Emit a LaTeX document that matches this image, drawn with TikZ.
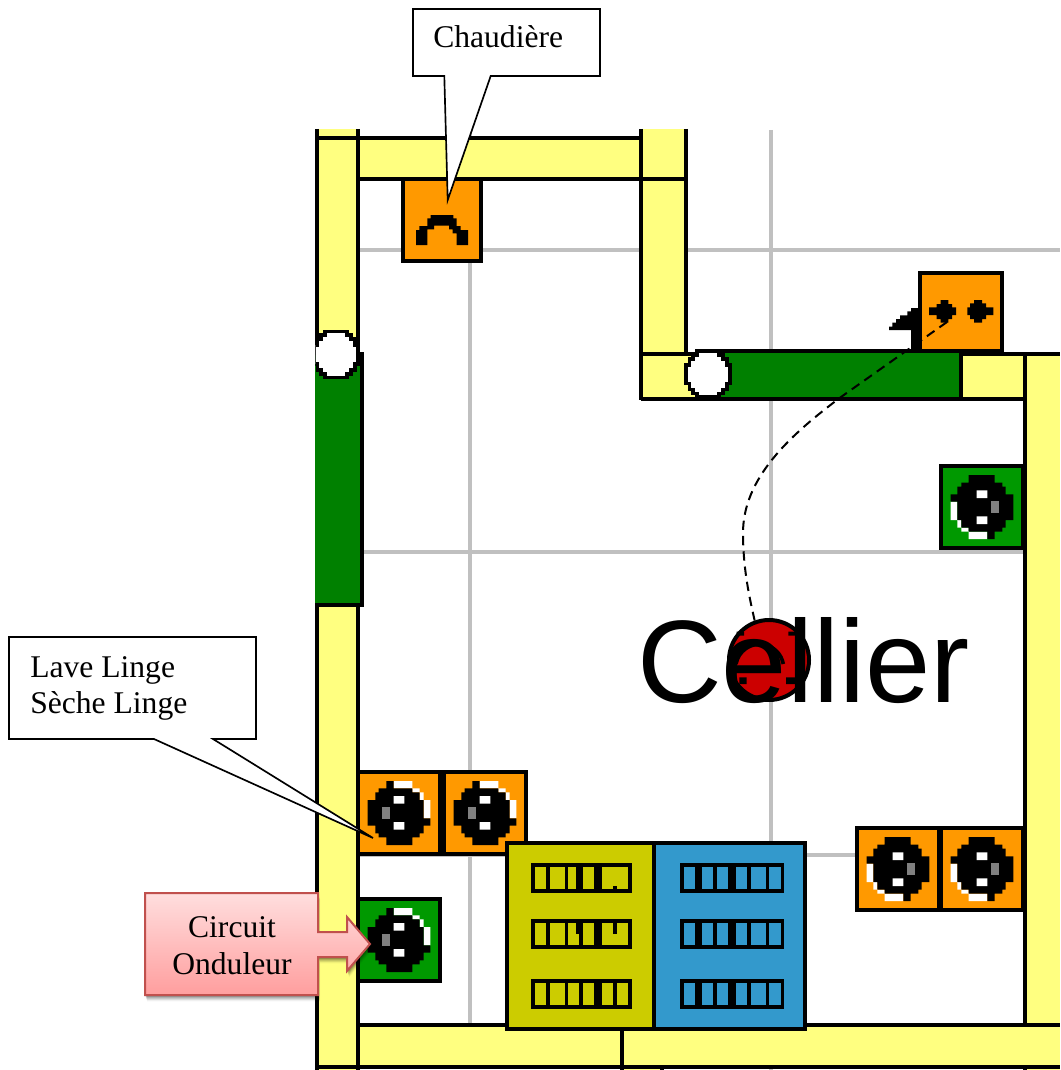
\documentclass[tikz,border=0pt]{standalone}
\usepackage{fontspec}
\setmainfont{Liberation Serif}
\newfontfamily\arialfont{Liberation Sans}
\definecolor{wallc}{HTML}{FFFF80}
\definecolor{gridc}{HTML}{C0C0C0}
\definecolor{doorc}{HTML}{008000}
\definecolor{orangec}{HTML}{FF9900}
\definecolor{sockgreen}{HTML}{009900}
\definecolor{olivec}{HTML}{CCCC00}
\definecolor{bluec}{HTML}{3399CC}
\definecolor{lampc}{HTML}{CC0000}
\definecolor{ondb}{HTML}{C0504D}
\definecolor{ondt}{HTML}{FFDEDE}
\definecolor{ondd}{HTML}{FF9E9E}
\tikzset{
  gridline/.style={draw=gridc,line width=2.5pt},
  wallline/.style={draw=black,line width=2.75pt,line cap=butt},
  wallfill/.style={fill=wallc},
  boxline/.style={draw=black,line width=3pt},
  callout/.style={draw=black,fill=white,line width=1.25pt,line join=miter},
  calltext/.style={font=\fontsize{23.7}{28}\selectfont,inner sep=0pt,anchor=base west},
  zoomunits/.style={x=.25pt,y=-.25pt},
}
% name, centre x, centre y, rotation, fill
\newcommand\socketbox[5]{%
  \node[boxline,fill=#5,minimum size=61.5pt,inner sep=0pt,rectangle] (#1) at (#2,#3) {};
  \begin{scope}[shift={(#2,#3)},rotate=#4,zoomunits,shift={(-176,-159)}]
    \fill[white] (160,63) rectangle (216,85) (216,85) rectangle (238,97) (238,97) rectangle (250,120) (250,120) rectangle (270,175);
    \fill[black] (138,63)--(160,63)--(160,85)--(216,85)--(216,97)--(238,97)--(238,120)--(250,120)--(250,175)--(270,175)--(270,197)--(250,197)--(250,220)--(238,220)--(238,232)--(216,232)--(216,255)--(138,255)--(138,232)--(115,232)--(115,220)--(105,220)--(105,197)--(82,197)--(82,120)--(105,120)--(105,97)--(115,97)--(115,85)--(138,85)--cycle;
    \fill[white] (160,108) rectangle (192,131) (160,186) rectangle (192,209);
    \fill[gray] (126,142) rectangle (148,176);
  \end{scope}}
% white door pivot, centre in px
\newcommand\pivot[2]{%
  \begin{scope}[shift={(#1,#2)},zoomunits]
    \draw[fill=white,line width=2.75pt,miter limit=10]
      (-27,-69)--(33,-69)--(33,-58)--(45,-58)--(45,-46)--(56,-46)--(56,-28)--(66,-28)--(66,28)--(56,28)--(56,46)--(45,46)--(45,58)--(33,58)--(33,69)--(-27,69)--(-33,69)--(-33,58)--(-45,58)--(-45,46)--(-56,46)--(-56,28)--(-66,28)--(-66,-28)--(-56,-28)--(-56,-46)--(-45,-46)--(-45,-58)--(-33,-58)--(-33,-69)--cycle;
  \end{scope}}
% breaker row: left x, top y (zoom units), colour, list of cells
\newcommand\breakers[5]{%
  \fill[black] (#1,#2) rectangle (#3,#2+90);
  \foreach \a/\b in {#5} {\fill[#4] (\a,#2+11) rectangle (\b,#2+79);}}
\begin{document}
\begin{tikzpicture}[x=.75pt,y=-.75pt]
\useasboundingbox (0,0) rectangle (1060,1070);
% grid
\draw[gridline] (470,130)--(470,1030);
\draw[gridline] (771,130)--(771,1070);
\draw[gridline] (358,250)--(1060,250);
\draw[gridline] (358,552)--(1025,552);
\draw[gridline] (358,855)--(1025,855);
% walls: fills
\fill[wallfill] (317,129) rectangle (358,1070);
\fill[wallfill] (358,138) rectangle (641,179);
\fill[wallfill] (641,129) rectangle (686,399);
\fill[wallfill] (641,354) rectangle (1060,399);
\fill[wallfill] (1025,354) rectangle (1060,1070);
\fill[wallfill] (358,1025) rectangle (1060,1067);
\fill[wallfill] (624,1067) rectangle (662,1070);
% walls: lines
\draw[wallline] (317,129)--(317,1070);
\draw[wallline] (358,129)--(358,1070);
\draw[wallline] (317,138)--(641,138);
\draw[wallline] (358,179)--(686,179);
\draw[wallline] (641,129)--(641,400);
\draw[wallline] (686,129)--(686,354);
\draw[wallline] (641,354)--(1060,354);
\draw[wallline] (641,399)--(1025,399);
\draw[wallline] (1025,354)--(1025,1025);
\draw[wallline] (1025,1067)--(1025,1070);
\draw[wallline] (358,1025)--(1060,1025);
\draw[wallline] (317,1067)--(1060,1067);
\draw[wallline] (622,1025)--(622,1070);
\draw[wallline] (662,1067)--(662,1070);
% left door
\fill[doorc] (315,353) rectangle (361,604);
\draw[wallline] (315,353.5)--(362,353.5)--(362,605)--(315,605);
\begin{scope}
  \clip (315.3,320) rectangle (380,390);
  \pivot{336}{354.5}
\end{scope}
% top door
\fill[doorc] (700,351) rectangle (960,398);
\draw[wallline,line width=3pt] (700,351)--(961,351)--(961,399)--(700,399);
\pivot{708}{374}
% boiler
\node[boxline,fill=orangec,rectangle,minimum width=58.5pt,minimum height=61.5pt,inner sep=0pt] (boiler) at (442,220) {};
\begin{scope}[shift={(300,0)},zoomunits]
  \fill[black] (348,735)--(348,690)--(358,690)--(358,678)--(382,678)--(382,655)--(392,655)--(392,645)--(460,645)--(460,655)--(470,655)--(470,678)--(482,678)--(482,690)--(504,690)--(504,735)--(470,735)--(470,700)--(458,700)--(458,688)--(447,688)--(447,677)--(402,677)--(402,688)--(382,688)--(382,735)--cycle;
\end{scope}
% switch box
\node[boxline,fill=orangec,rectangle,minimum width=61.5pt,minimum height=59pt,inner sep=0pt] (switchbox) at (961,312) {};
\begin{scope}[shift={(680,250)},zoomunits]
  \fill[black] (627,240)--(627,230)--(637,230)--(637,218)--(648,218)--(648,207)--(660,207)--(660,196)--(682,196)--(682,184)--(693,184)--(693,174)--(720,174)--(720,303)--(693,303)--(693,240)--cycle;
  \fill[black] (747,172) rectangle (828,195) (770,162) rectangle (816,207) (782,150) rectangle (805,218);
  \fill[black] (862,172) rectangle (940,195) (870,160) rectangle (918,207) (882,150) rectangle (906,218);
\end{scope}
% sockets
\socketbox{sockA}{399}{813}{0}{orangec}
\socketbox{sockB}{485}{813}{0}{orangec}
\socketbox{sockC}{399}{940}{0}{sockgreen}
\socketbox{sockD}{982}{507}{180}{sockgreen}
\socketbox{sockE}{898}{869}{180}{orangec}
\socketbox{sockF}{982}{869}{180}{orangec}
% panels
\node[boxline,fill=olivec,rectangle,minimum width=110.7pt,minimum height=139.5pt,inner sep=0pt] (panelA) at (580.5,936) {};
\node[boxline,fill=bluec,rectangle,minimum width=113.5pt,minimum height=139.5pt,inner sep=0pt] (panelB) at (729.5,936) {};
\begin{scope}[shift={(500,830)},zoomunits]
  \breakers{93}{99}{396}{olivec}{104/138,150/195,204/228,249/283,306/385}
  \fill[black] (340,167) rectangle (351,178);
  \breakers{93}{267}{396}{olivec}{104/138,150/195,204/228,249/283,306/385}
  \fill[olivec] (228,312) rectangle (238,346);
  \fill[black] (340,278) rectangle (351,312);
  \breakers{93}{447}{396}{olivec}{104/138,150/195,204/238,249/283,306/340,351/385}
  \breakers{540}{99}{852}{bluec}{552/585,606/640,651/685,708/742,753/798,807/843}
  \breakers{540}{267}{852}{bluec}{552/585,606/640,651/685,708/742,753/798,807/843}
  \breakers{540}{447}{852}{bluec}{552/585,606/640,651/685,708/742,753/798,807/843}
\end{scope}
% lamp
\node[circle,draw=black,fill=lampc,line width=3pt,minimum size=60pt,inner sep=0pt] (lamp) at (769,660) {};
\draw[black,line width=2.75pt] (736,664) arc[start angle=190,end angle=350,x radius=24,y radius=24];
\begin{scope}[shift={(620,590)},zoomunits]
  \fill[black] (505,125) rectangle (526,137) (498,262) rectangle (526,282) (358,262) rectangle (380,282) (350,125) rectangle (372,137);
\end{scope}
% dashed wire
\coordinate (switchpt) at (947,322);
\draw[black,line width=1.5pt,dash pattern=on 7pt off 4.5pt]
  (switchpt)--(841,397) .. controls (790,435) and (743,478) .. (743,533)
  .. controls (743,570) and (750,600) .. (lamp.110);
% room label
\node[inner sep=0pt,anchor=base west,font=\arialfont\fontsize{88}{92}\selectfont] (cellier) at (637,702) {Cellier};
% callouts
\draw[callout] (413,9)--(600,9)--(600,76)--(490.7,76)--(447.7,200)--(444.3,76)--(413,76)--cycle;
\node[calltext] (chaudiere) at (433,48) {Chaudière};
\draw[callout] (9,637)--(256,637)--(256,739)--(213,739)--(373,838)--(154,739)--(9,739)--cycle;
\node[calltext] (lave) at (30,677) {Lave Linge};
\node[calltext] (seche) at (30,713) {Sèche Linge};
% onduleur arrow callout
\foreach \o/\p in {1/.12,2/.12,3/.12,4/.10,5/.08,6/.06,7/.04} {
  \begin{scope}[shift={(\o*.3,\o*.9)}]
    \fill[black,opacity=\p] (145,893)--(318,893)--(318,932)--(347,932)--(347,917)--(370,944)--(347,971)--(347,957)--(318,957)--(318,995)--(145,995)--cycle;
  \end{scope}
}
\draw[draw=ondb,line width=1.5pt,top color=ondt,bottom color=ondd,line join=miter] (145,893)--(318,893)--(318,932)--(347,932)--(347,917)--(370,944)--(347,971)--(347,957)--(318,957)--(318,995)--(145,995)--cycle;
\node[font=\fontsize{23.7}{28}\selectfont,inner sep=0pt,anchor=base] (circuit) at (232,937) {Circuit};
\node[font=\fontsize{23.7}{28}\selectfont,inner sep=0pt,anchor=base] (onduleur) at (232,974) {Onduleur};
\end{tikzpicture}
\end{document}
